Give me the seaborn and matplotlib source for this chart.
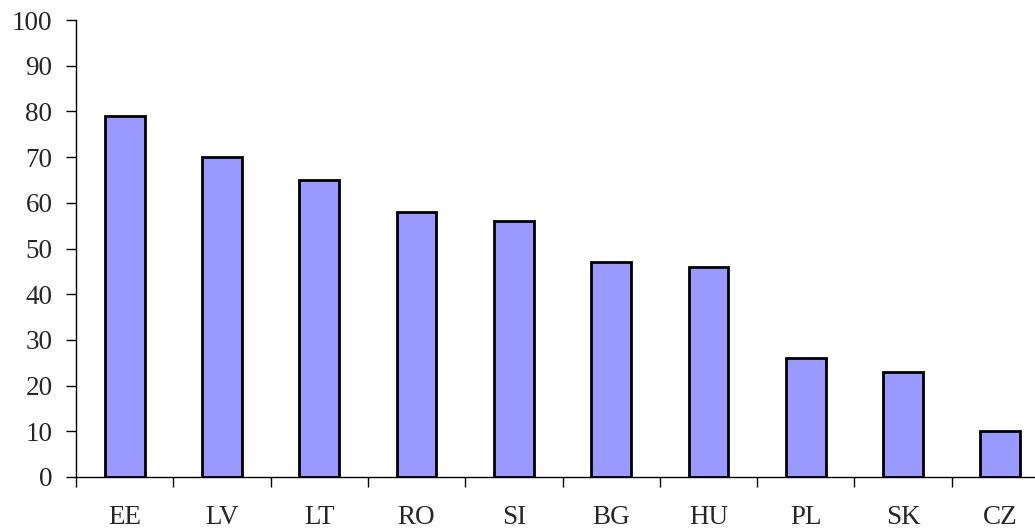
import matplotlib
matplotlib.use("Agg")
import matplotlib.pyplot as plt
import seaborn as sns
import pandas as pd
import numpy as np

countries = ["EE", "LV", "LT", "RO", "SI", "BG", "HU", "PL", "SK", "CZ"]
values = [79, 70, 65, 58, 56, 47, 46, 26, 23, 10]

sns.set_style("white")
plt.rcParams['font.family'] = ['Liberation Serif', 'DejaVu Serif']

df = pd.DataFrame({"country": countries, "value": values})

fig = plt.figure(figsize=(10.35, 5.30), dpi=100)
ax = fig.add_axes([76 / 1035, 53 / 530, 973 / 1035, 457 / 530])

sns.barplot(data=df, x="country", y="value", color="#9999FF", saturation=1,
            width=0.41, edgecolor="black", linewidth=2, ax=ax)

ax.set_ylim(0, 100)
ax.set_xlim(-0.5, len(countries) - 0.5)
ax.set_yticks(np.arange(0, 101, 10))
ax.set_xticks(np.arange(len(countries)))
ax.set_xticks(np.arange(len(countries)) - 0.5, minor=True)
ax.tick_params(axis="x", which="major", bottom=True, length=0, pad=20, labelsize=19.5)
ax.tick_params(axis="x", which="minor", bottom=True, length=7, width=1, direction="out", color="black")
ax.tick_params(axis="y", left=True, length=7, width=1, direction="out", color="black", labelsize=19.5, pad=10)
ax.set_xlabel("")
ax.set_ylabel("")

for s in ["top", "right"]:
    ax.spines[s].set_visible(False)
for s in ["left", "bottom"]:
    ax.spines[s].set_color("black")
    ax.spines[s].set_linewidth(1)

fig.savefig("out.png", dpi=100)
